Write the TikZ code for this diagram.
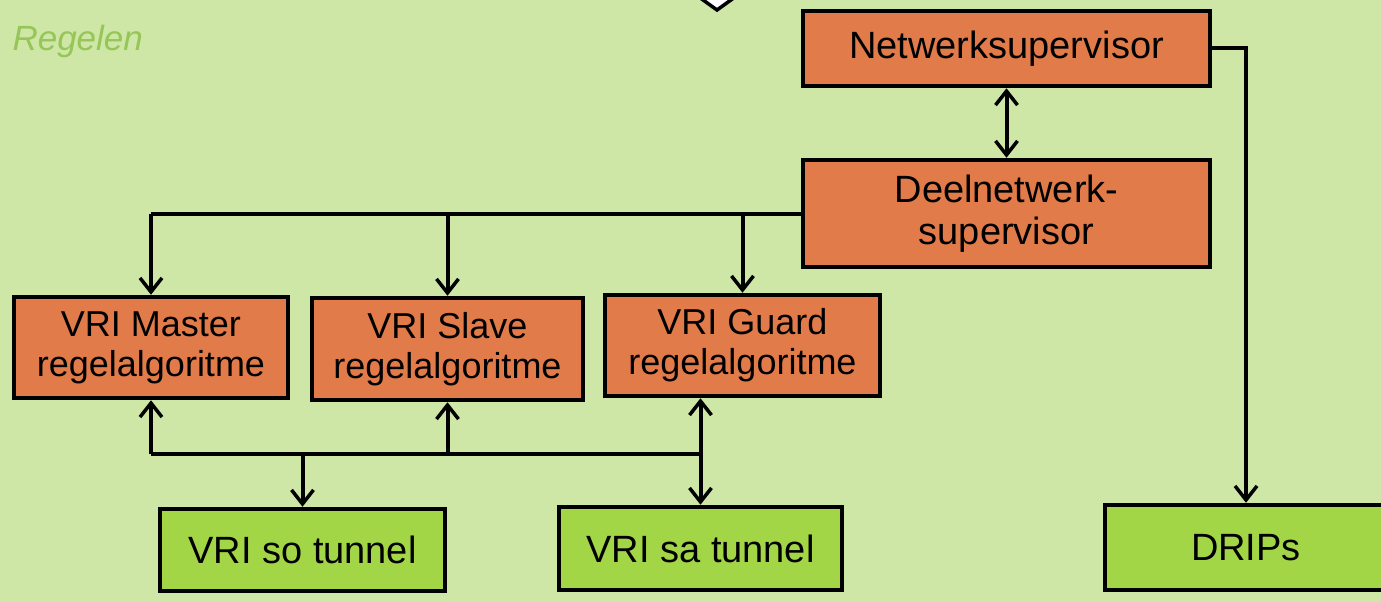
\documentclass[tikz,border=0pt]{standalone}
\usepackage{fontspec}
\setmainfont{Liberation Sans}
\usetikzlibrary{arrows.meta}
\definecolor{bg}{RGB}{207,231,166}
\definecolor{orangebox}{RGB}{226,123,74}
\definecolor{greenbox}{RGB}{163,214,70}
\definecolor{labelgreen}{RGB}{150,197,88}
\tikzset{
  obox/.style={draw=black, line width=4.5pt, fill=orangebox, align=center, inner sep=0pt,
    font=\fontsize{38}{42}\selectfont},
  vbox/.style={draw=black, line width=4.5pt, fill=orangebox, align=center, inner sep=0pt,
    font=\fontsize{36}{40}\selectfont},
  gbox/.style={draw=black, line width=4.5pt, fill=greenbox, align=center, inner sep=0pt,
    font=\fontsize{38}{42}\selectfont},
  conn/.style={draw=black, line width=4pt},
  arr/.style={conn, -{Straight Barb[length=14pt,width=22pt,line width=3.5pt]}},
  biarr/.style={conn, {Straight Barb[length=14pt,width=22pt,line width=3.5pt]}-{Straight Barb[length=14pt,width=22pt,line width=3.5pt]}}
}
\begin{document}
\begin{tikzpicture}[x=1pt,y=-1pt]
\useasboundingbox (0,0) rectangle (1381,602);
\fill[bg] (0,0) rectangle (1381,602);
\clip (0,0) rectangle (1381,602);

% partially visible shape at the top
\draw[fill=white, line width=3.5pt, line join=miter] (692,-8) -- (717,10) -- (742,-8) -- cycle;

\node[anchor=west, text=labelgreen, font=\fontsize{35}{38}\selectfont\itshape] (title) at (9,41) {Regelen};

\node[obox, minimum width=407pt, minimum height=75pt] (net) at (1006.5,48.5) {Netwerksupervisor};
\node[obox, minimum width=407pt, minimum height=107pt] (deel) at (1006.5,213.5) {Deelnetwerk-\\supervisor};

\node[vbox, minimum width=274pt, minimum height=101pt] (master) at (151,347.5) {VRI Master\\regelalgoritme};
\node[vbox, minimum width=271pt, minimum height=102pt] (slave) at (447.5,349) {VRI Slave\\regelalgoritme};
\node[vbox, minimum width=275pt, minimum height=101pt] (guard) at (742.5,345.5) {VRI Guard\\regelalgoritme};

\node[gbox, minimum width=285pt, minimum height=82pt] (so) at (302.5,550) {VRI so tunnel};
\node[gbox, minimum width=283pt, minimum height=83pt] (sa) at (700.5,548.5) {VRI sa tunnel};
\node[gbox, minimum width=282pt, minimum height=85pt] (drips) at (1246,547.5) {DRIPs};

% supervisor connections
\draw[biarr] (net.south) -- (deel.north);
\draw[arr] (net.east) -| (drips.north);

% distribution from Deelnetwerk-supervisor
\coordinate (topL) at (master.north |- deel.west);
\draw[conn] (deel.west) -- (topL);
\draw[arr] (topL) -- (master.north);
\draw[arr] (slave.north |- deel.west) -- (slave.north);
\draw[arr] (guard.north |- deel.west) -- (guard.north);

% bus between algorithms and tunnels
\coordinate (busL) at (master.south |- 0,454);
\coordinate (busR) at (sa.north |- busL);
\draw[conn] (busL) -- (busR);
\draw[arr] (busL) -- (master.south);
\draw[arr] (slave.south |- busL) -- (slave.south);
\draw[arr] (busR) -- (sa.north |- guard.south);
\draw[arr] (so.north |- busL) -- (so.north);
\draw[arr] (busR) -- (sa.north);
\end{tikzpicture}
\end{document}
